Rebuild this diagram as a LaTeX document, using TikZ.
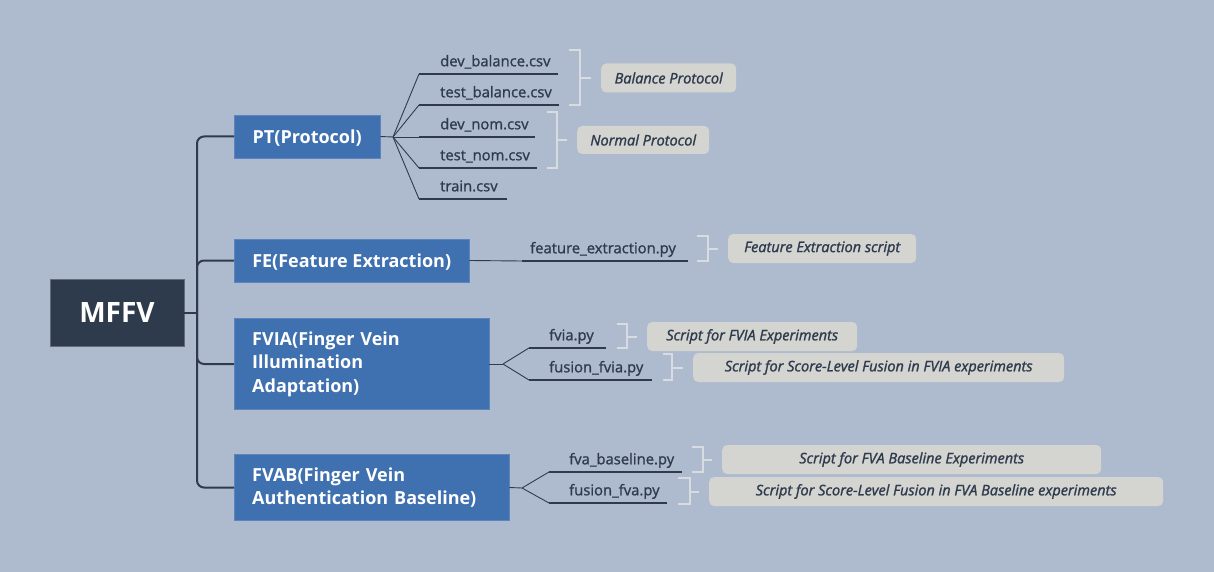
\documentclass[tikz,border=0pt]{standalone}
\usepackage{fontspec}
\setmainfont{Open Sans}
\newfontfamily\leaffont[FakeBold=1.2]{Open Sans}
\newfontfamily\notefont[FakeBold=1.5]{Open Sans}
\usetikzlibrary{positioning}

\definecolor{bgblue}{HTML}{AEBBCF}
\definecolor{rootfill}{HTML}{2E3B4D}
\definecolor{mainfill}{HTML}{3F70AF}
\definecolor{inkdark}{HTML}{2F3B4D}
\definecolor{notefill}{HTML}{D4D5D1}
\definecolor{bracegray}{HTML}{D8DCE0}

\tikzset{
  rootbox/.style={fill=rootfill, draw=rootfill!75!white, text=white,
    font=\fontsize{28}{30}\selectfont\bfseries, minimum width=134, minimum height=67, inner sep=0},
  mainbox/.style={fill=mainfill, draw=mainfill!85!white, text=white,
    font=\fontsize{18}{23.5}\selectfont\bfseries, align=left, inner xsep=18, inner ysep=13,
    minimum height=43, anchor=west},
  oneline/.style={text height=14, text depth=0},
  leaf/.style={font=\fontsize{14.8}{17}\leaffont\selectfont, text=inkdark, align=left,
    inner xsep=8, inner ysep=4, text height=11, text depth=3.5, anchor=south west},
  note/.style={fill=notefill, rounded corners=5, text=inkdark,
    font=\fontsize{14.5}{16}\notefont\itshape\selectfont, minimum height=29, inner sep=0, anchor=west},
  trunk/.style={draw=inkdark, line width=2, rounded corners=7},
  twig/.style={draw=inkdark, line width=0.9},
  under/.style={draw=inkdark, line width=1.5},
  bracket/.style={draw=bracegray, line width=2},
}

\begin{document}
\begin{tikzpicture}[x=1pt,y=-1pt]
\useasboundingbox[fill=bgblue] (0,0) rectangle (1214,572);

% root and main topics
\node[rootbox] (mffv) at (117,312.5) {MFFV};
\coordinate (hub) at (197,312.5);

\node[mainbox, oneline, minimum width=146] (pt) at (234,136.5) {PT(Protocol)};
\node[mainbox, oneline, minimum width=235] (fe) at (234,260.5) {FE(Feature Extraction)};
\node[mainbox, text width=219] (fvia) at (234,364) {FVIA(Finger Vein\\Illumination\\Adaptation)};
\node[mainbox, text width=239] (fvab) at (234,487.5) {FVAB(Finger Vein\\Authentication Baseline)};

\draw[trunk] (mffv.east) -- (hub);
\foreach \topic in {pt,fe,fvia,fvab}
  \draw[trunk] (hub) |- (\topic.west);

% PT files
\node[leaf, text width=110] (dbal) at (432,74) {dev\_balance.csv};
\node[leaf, text width=111] (tbal) at (432,105) {test\_balance.csv};
\node[leaf, text width=87] (dnom) at (432,137) {dev\_nom.csv};
\node[leaf, text width=89] (tnom) at (432,168) {test\_nom.csv};
\node[leaf, text width=59] (train) at (432,199) {train.csv};
\coordinate (ptfan) at (393,137);
\draw[twig] (pt.east) -- (ptfan);
\foreach \leafname in {dbal,tbal,dnom,tnom,train}{
  \draw[twig] (ptfan) -- ([xshift=-13]\leafname.south west);
  \draw[under] ([xshift=-13]\leafname.south west) -- (\leafname.south east);
}

% FE file
\node[leaf, text width=150] (fext) at (522,261) {feature\_extraction.py};
\draw[twig] (fe.east) -- (fext.south west);
\draw[under] (fext.south west) -- (fext.south east);

% FVIA files
\node[leaf, text width=49] (fviapy) at (541,348) {fvia.py};
\node[leaf, text width=95] (fusfvia) at (541,380) {fusion\_fvia.py};
\coordinate (fviafan) at (503,364);
\draw[twig] (fvia.east) -- (fviafan);
\foreach \leafname in {fviapy,fusfvia}{
  \draw[twig] (fviafan) -- ([xshift=-12]\leafname.south west);
  \draw[under] ([xshift=-12]\leafname.south west) -- (\leafname.south east);
}

% FVAB files
\node[leaf, text width=105] (fvapy) at (561,472) {fva\_baseline.py};
\node[leaf, text width=90] (fusfva) at (561,503) {fusion\_fva.py};
\coordinate (fvabfan) at (522,488);
\draw[twig] (fvab.east) -- (fvabfan);
\foreach \leafname in {fvapy,fusfva}{
  \draw[twig] (fvabfan) -- ([xshift=-12]\leafname.south west);
  \draw[under] ([xshift=-12]\leafname.south west) -- (\leafname.south east);
}

% notes with brackets
\node[note, minimum width=135] (balnote) at (601,78) {Balance Protocol};
\node[note, minimum width=132, minimum height=28] (nomnote) at (577,140) {Normal Protocol};
\node[note, minimum width=188] (fenote) at (728,248.5) {Feature Extraction script};
\node[note, minimum width=210] (fvianote) at (647,336.5) {Script for FVIA Experiments};
\node[note, minimum width=371] (fusfvianote) at (693,367.5) {Script for Score-Level Fusion in FVIA experiments};
\node[note, minimum width=379] (fvanote) at (722,459.5) {Script for FVA Baseline Experiments};
\node[note, minimum width=454] (fusfvanote) at (709,491.5) {Script for Score-Level Fusion in FVA Baseline experiments};

\draw[bracket] (569,50) -- (580,50) -- (580,105) -- (569,105);
\draw[bracket, shorten >=10] (580,78) -- (balnote.west);
\draw[bracket] (547,112) -- (557,112) -- (557,168) -- (547,168);
\draw[bracket, shorten >=10] (557,140) -- (nomnote.west);
\draw[bracket] (697,236) -- (708,236) -- (708,261) -- (697,261);
\draw[bracket, shorten >=10] (708,248.5) -- (fenote.west);
\draw[bracket] (617,324) -- (627,324) -- (627,348) -- (617,348);
\draw[bracket, shorten >=10] (627,336.5) -- (fvianote.west);
\draw[bracket] (663,354) -- (672,354) -- (672,380) -- (663,380);
\draw[bracket, shorten >=10] (672,367.5) -- (fusfvianote.west);
\draw[bracket] (692,447) -- (703,447) -- (703,472) -- (692,472);
\draw[bracket, shorten >=10] (703,459.5) -- (fvanote.west);
\draw[bracket] (678,478) -- (690,478) -- (690,504) -- (678,504);
\draw[bracket, shorten >=10] (690,491.5) -- (fusfvanote.west);
\end{tikzpicture}
\end{document}
